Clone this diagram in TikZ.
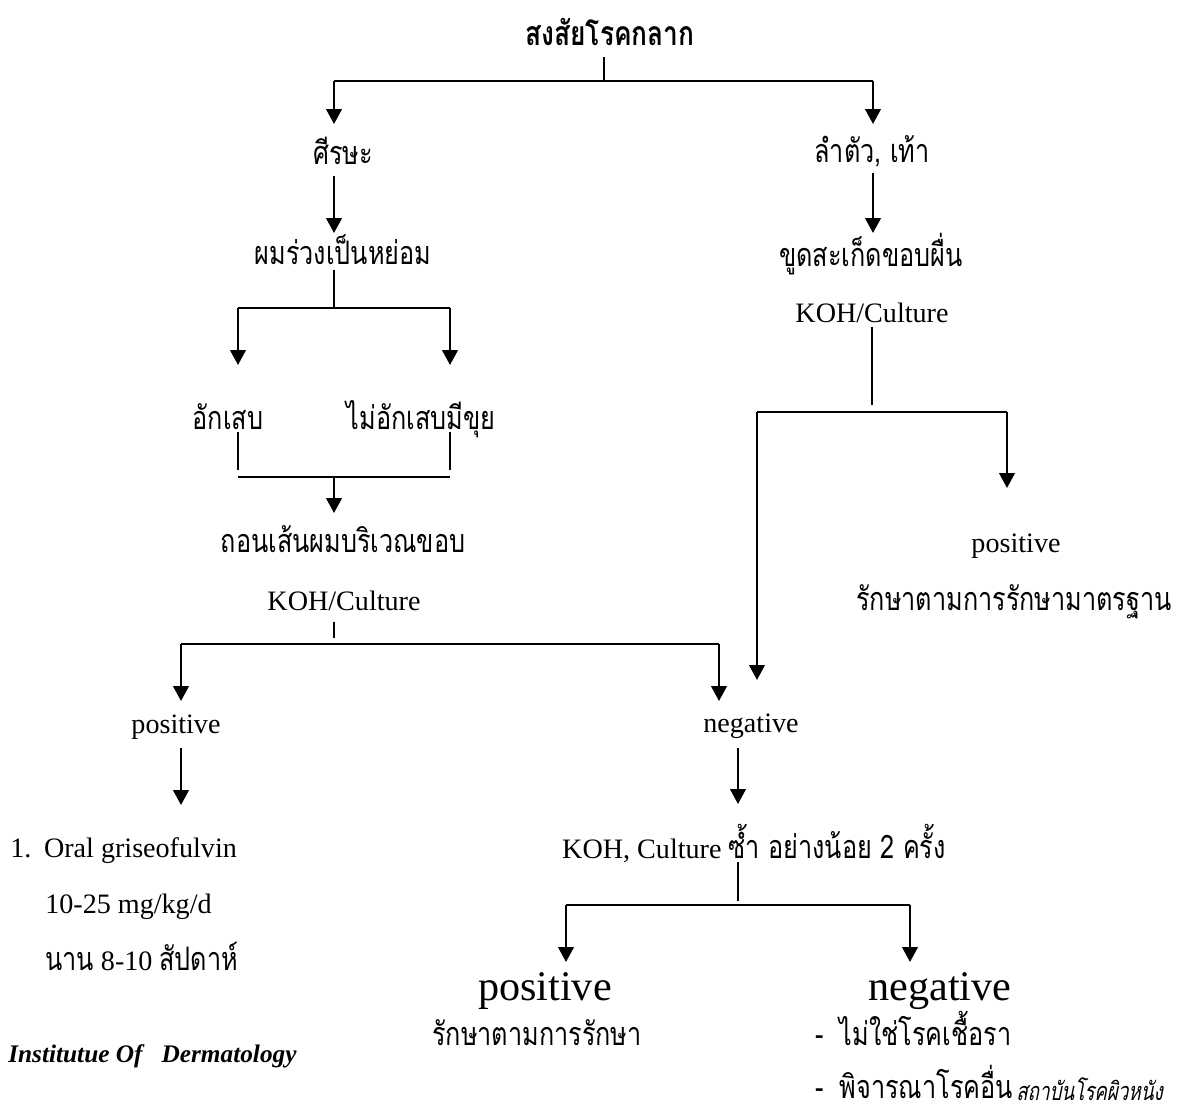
\documentclass[tikz,border=0pt]{standalone}
\usepackage{fontspec}
\setmainfont{Liberation Serif}
\newfontfamily\thaifont[Script=Thai,FakeStretch=0.78]{Loma}
\newfontfamily\thaislant[Script=Thai,FakeStretch=0.74,FakeSlant=0.2]{Loma}
\usetikzlibrary{arrows.meta}

\tikzset{
  flow/.style={line width=1.4pt},
  stem/.style={line width=0.8pt},
  arr/.style={flow, -{Triangle[width=11pt,length=10.5pt]}},
  startgap/.style={shorten <=#1*0.7113pt},
  endgap/.style={shorten >=#1*0.7113pt},
  lat/.style={font=\fontsize{20}{24}\selectfont, inner sep=0pt, anchor=base},
  latbig/.style={font=\fontsize{30}{34}\selectfont, inner sep=0pt, anchor=base},
  thai/.style={font=\thaifont\fontsize{23}{27}\selectfont, inner sep=0pt, anchor=base},
}

\begin{document}
\begin{tikzpicture}[x=0.025cm, y=-0.025cm]
    \useasboundingbox (0,0) rectangle (1184,1110);

    % labels
    \node[thai, font=\thaifont\bfseries\fontsize{24}{28}\selectfont] (title) at (610,46) {สงสัยโรคกลาก};
    \node[thai] (head) at (343,165) {ศีรษะ};
    \node[thai] (trunk) at (872,163) {ลำตัว, เท้า};
    \node[thai] (hairloss) at (343,265) {ผมร่วงเป็นหย่อม};
    \node[thai] (scrape) at (871,266) {ขูดสะเก็ดขอบผื่น};
    \node[lat] (kohR) at (872,322) {KOH/Culture};
    \node[thai] (inflam) at (228,429) {อักเสบ};
    \node[thai] (noninflam) at (421,429) {ไม่อักเสบมีขุย};
    \node[thai] (pluck) at (343,552) {ถอนเส้นผมบริเวณขอบ};
    \node[lat] (kohL) at (344,610) {KOH/Culture};
    \node[lat] (posR) at (1016,552) {positive};
    \node[thai] (treatR) at (1014,610) {รักษาตามการรักษามาตรฐาน};
    \node[lat] (posL) at (176,733) {positive};
    \node[lat] (negL) at (751,732) {negative};
    \node[lat, anchor=base west] (griseo) at (10,857) {1.\hspace{0.45em}Oral griseofulvin};
    \node[lat, anchor=base west] (dose) at (45,913) {10-25 mg/kg/d};
    \node[lat, anchor=base west] (duration) at (45,970) {{\thaifont\fontsize{23}{27}\selectfont นาน} 8-10 {\thaifont\fontsize{23}{27}\selectfont สัปดาห์}};
    \node[lat] (repeat) at (754,858) {KOH, Culture {\thaifont\fontsize{23}{27}\selectfont ซ้ำ อย่างน้อย 2 ครั้ง}};
    \node[latbig] (posB) at (545,1000) {positive};
    \node[latbig] (negB) at (940,1000) {negative};
    \node[thai] (treatB) at (537,1045) {รักษาตามการรักษา};
    \node[thai, anchor=base west] (notfungus) at (815,1045) {-\hspace{0.5em}ไม่ใช่โรคเชื้อรา};
    \node[thai, anchor=base west] (other) at (815,1098) {-\hspace{0.5em}พิจารณาโรคอื่น};
    \node[thai, anchor=base west, font=\thaislant\fontsize{18}{21}\selectfont] (instth) at (1016,1100) {สถาบันโรคผิวหนัง};
    \node[lat, anchor=base west, font=\bfseries\itshape\fontsize{18}{21}\selectfont] (inst) at (8,1062) {Institutue Of\hspace{0.5em} Dermatology};

    % junctions
    \coordinate (top) at (604,81);
    \coordinate (topL) at (334,81);
    \coordinate (topR) at (873,81);
    \coordinate (hairJ) at (334,308);
    \coordinate (hairL) at (238,308);
    \coordinate (hairR) at (450,308);
    \coordinate (merge) at (334,477);
    \coordinate (mergeL) at (238,477);
    \coordinate (mergeR) at (450,477);
    \coordinate (kohLJ) at (334,644);
    \coordinate (kohLL) at (181,644);
    \coordinate (kohLR) at (719,644);
    \coordinate (kohRJ) at (872,412);
    \coordinate (kohRL) at (757,412);
    \coordinate (kohRR) at (1007,412);
    \coordinate (repJ) at (738,905);
    \coordinate (repL) at (566,905);
    \coordinate (repR) at (910,905);

    % connectors
    \draw[stem, startgap=11] (title.base -| top) -- (top);
    \draw[flow] (topL) -- (topR);
    \draw[arr, endgap=41] (topL) -- (topL |- head.base);
    \draw[arr, endgap=39] (topR) -- (topR |- trunk.base);
    \draw[arr, startgap=11, endgap=32] (head.base -| topL) -- (topL |- hairloss.base);
    \draw[arr, startgap=10, endgap=33] (trunk.base -| topR) -- (topR |- scrape.base);

    \draw[flow, startgap=5] (hairloss.base -| hairJ) -- (hairJ);
    \draw[flow] (hairL) -- (hairR);
    \draw[arr, endgap=64] (hairL) -- (hairL |- inflam.base);
    \draw[arr, endgap=64] (hairR) -- (hairR |- noninflam.base);
    \draw[flow, startgap=3, endgap=7] (inflam.base -| mergeL) -- (mergeL);
    \draw[flow, startgap=3, endgap=7] (noninflam.base -| mergeR) -- (mergeR);
    \draw[flow] (mergeL) -- (mergeR);
    \draw[arr, endgap=39] (merge) -- (merge |- pluck.base);

    \draw[stem, startgap=12, endgap=6] (kohL.base -| kohLJ) -- (kohLJ);
    \draw[flow] (kohLL) -- (kohLR);
    \draw[arr, endgap=32] (kohLL) -- (kohLL |- posL.base);
    \draw[arr, endgap=31] (kohLR) -- (kohLR |- negL.base);

    \draw[stem, startgap=5, endgap=7] (kohR.base -| kohRJ) -- (kohRJ);
    \draw[flow] (kohRL) -- (kohRR);
    \draw[arr, endgap=64] (kohRR) -- (kohRR |- posR.base);
    \draw[arr, endgap=52] (kohRL) -- (kohRL |- negL.base);

    \draw[arr, startgap=15, endgap=52] (posL.base -| kohLL) -- (kohLL |- griseo.base);
    \draw[arr, startgap=16, endgap=54] (negL.base -| repJ) -- (repJ |- repeat.base);
    \draw[flow, startgap=4, endgap=4] (repeat.base -| repJ) -- (repJ);
    \draw[flow] (repL) -- (repR);
    \draw[arr, endgap=38] (repL) -- (repL |- posB.base);
    \draw[arr, endgap=38] (repR) -- (repR |- negB.base);
\end{tikzpicture}
\end{document}
